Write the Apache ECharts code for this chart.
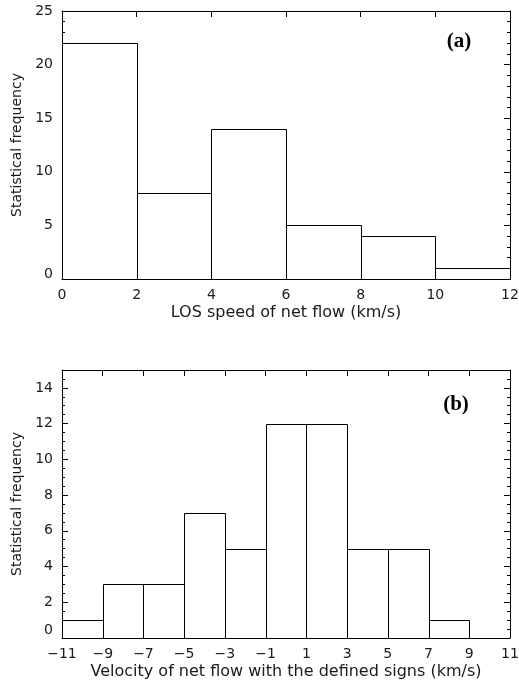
<!DOCTYPE html>
<html><head><meta charset="utf-8">
<script src="https://cdn.jsdelivr.net/npm/echarts@6/dist/echarts.min.js"></script>
<style>html,body{margin:0;padding:0;background:#fff}#c{width:519px;height:682px}</style>
</head><body><div id="c"></div>
<script>
// Panel (a): LOS speed histogram
const edgesA = [0, 2, 4, 6, 8, 10, 12];
const countsA = [22, 8, 14, 5, 4, 1];
const xRangeA = [0, 12, 2];       // min, max, tick step
const yRangeA = [0, 25, 5, 1];    // min, max, major step, minor step
const xNameA = 'LOS speed of net flow (km/s)';
// Panel (b): signed velocity histogram
const edgesB = [-11, -9, -7, -5, -3, -1, 1, 3, 5, 7, 9, 11];
const countsB = [1, 3, 3, 7, 5, 12, 12, 5, 5, 1, 0];
const xRangeB = [-11, 11, 2];
const yRangeB = [0, 15, 2, 0.5];
const xNameB = 'Velocity of net flow with the defined signs (km/s)';
const yName = 'Statistical frequency';
const panelLabels = ['(a)', '(b)'];

const TXT = '#1a1a1a';
const FONT = 'DejaVu Sans';

function binsData(edges, counts) {
  return counts.map((c, i) => [edges[i], edges[i + 1], c]);
}
function fmt(v) { return v < 0 ? '\u2212' + Math.abs(v) : String(v); }

function renderBin(params, api) {
  const x0 = api.value(0), x1 = api.value(1), c = api.value(2);
  if (!c) return null;
  const p0 = api.coord([x0, c]);
  const p1 = api.coord([x1, 0]);
  const X0 = Math.round(p0[0]) + 0.5, X1 = Math.round(p1[0]) + 0.5;
  const Y0 = Math.round(p0[1]) + 0.5, Y1 = Math.round(p1[1]) + 0.5;
  return {
    type: 'rect',
    shape: { x: X0, y: Y0, width: X1 - X0, height: Y1 - Y0 },
    style: { fill: '#fff', stroke: '#000', lineWidth: 1 }
  };
}

const lineSt = { color: '#000', width: 1 };

function xAxes(g, r, name) {
  const common = {
    type: 'value', gridIndex: g, min: r[0], max: r[1], interval: r[2],
    axisLine: { show: true, onZero: false, lineStyle: lineSt },
    axisTick: { show: true, inside: true, length: 6, lineStyle: lineSt },
    splitLine: { show: false }
  };
  return [
    Object.assign({}, common, {
      position: 'bottom', name: name, nameLocation: 'middle', nameGap: 26,
      nameTextStyle: { fontSize: 16, color: TXT, fontFamily: FONT },
      axisLabel: { show: true, margin: 9, fontSize: 14, color: TXT, fontFamily: FONT,
        formatter: fmt, showMinLabel: true, showMaxLabel: true }
    }),
    Object.assign({}, common, { position: 'top', axisLabel: { show: false } })
  ];
}

function yAxes(g, r, zeroShift, showMax) {
  const major = {
    type: 'value', gridIndex: g, min: r[0], max: r[1], interval: r[2],
    axisLine: { show: true, onZero: false, lineStyle: lineSt },
    axisTick: { show: true, inside: true, length: 6, lineStyle: lineSt },
    splitLine: { show: false }
  };
  const minor = {
    type: 'value', gridIndex: g, min: r[0], max: r[1], interval: r[3],
    axisLine: { show: false, onZero: false },
    axisTick: { show: true, inside: true, length: 3, lineStyle: lineSt },
    axisLabel: { show: false },
    splitLine: { show: false }
  };
  return [
    Object.assign({}, major, {
      position: 'left', name: yName, nameLocation: 'middle', nameGap: 37,
      nameTextStyle: { fontSize: 14, color: TXT, fontFamily: FONT },
      axisLabel: { show: true, margin: 9, fontSize: 14, color: TXT, fontFamily: FONT,
        showMaxLabel: showMax, showMinLabel: true,
        formatter: v => v === 0 ? '{z|0}' : String(v),
        rich: { z: { fontSize: 14, color: TXT, fontFamily: FONT, padding: [0, 0, zeroShift, 0] } } }
    }),
    Object.assign({}, major, { position: 'right', axisLabel: { show: false } }),
    Object.assign({}, minor, { position: 'left' }),
    Object.assign({}, minor, { position: 'right' })
  ];
}

const chart = echarts.init(document.getElementById('c'), null, { renderer: 'canvas' });
chart.setOption({
  animation: false,
  backgroundColor: '#fff',
  textStyle: { fontFamily: FONT },
  grid: [
    { left: 62, top: 11, width: 448, height: 268, containLabel: false, outerBoundsMode: 'none' },
    { left: 62, top: 370, width: 448, height: 268, containLabel: false, outerBoundsMode: 'none' }
  ],
  xAxis: [].concat(xAxes(0, xRangeA, xNameA), xAxes(1, xRangeB, xNameB)),
  yAxis: [].concat(yAxes(0, yRangeA, 10, true), yAxes(1, yRangeB, 16, false)),
  series: [
    { type: 'custom', xAxisIndex: 0, yAxisIndex: 0, renderItem: renderBin,
      encode: { x: [0, 1], y: 2 }, data: binsData(edgesA, countsA), z: 1 },
    { type: 'custom', xAxisIndex: 2, yAxisIndex: 4, renderItem: renderBin,
      encode: { x: [0, 1], y: 2 }, data: binsData(edgesB, countsB), z: 1 }
  ],
  graphic: [
    { type: 'text', x: 459, y: 42, style: { text: panelLabels[0], fontFamily: 'Liberation Serif',
      fontWeight: 'bold', fontSize: 21, fill: '#000', align: 'center', verticalAlign: 'middle' } },
    { type: 'text', x: 456, y: 405, style: { text: panelLabels[1], fontFamily: 'Liberation Serif',
      fontWeight: 'bold', fontSize: 21, fill: '#000', align: 'center', verticalAlign: 'middle' } }
  ]
});
</script></body></html>
